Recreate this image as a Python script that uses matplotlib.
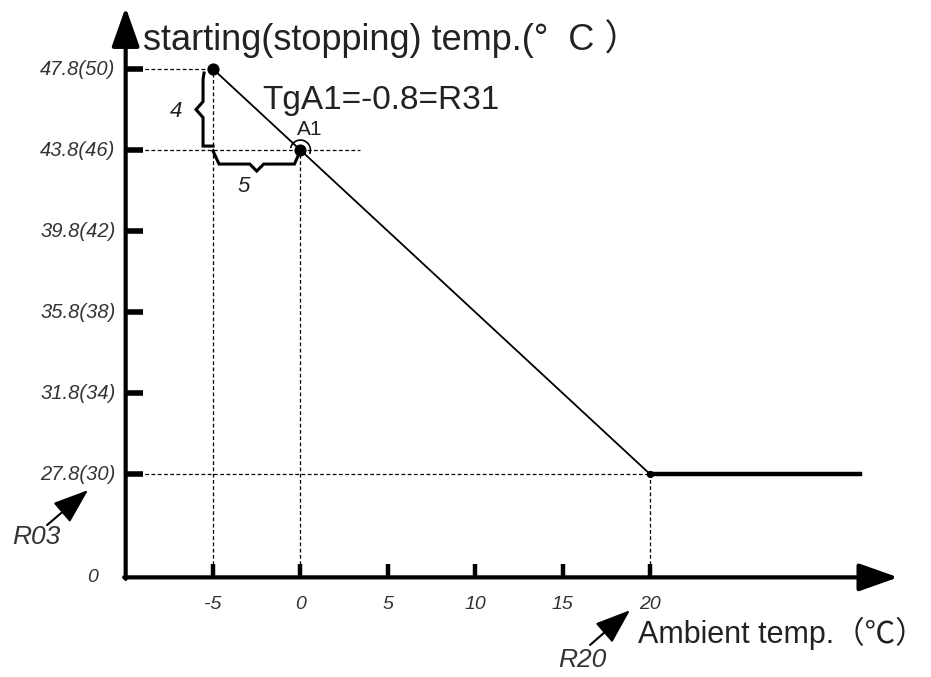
import numpy as np
import matplotlib.pyplot as plt
from matplotlib.patches import Arc

plt.rcParams['font.family'] = ['Liberation Sans', 'Noto Sans CJK SC', 'DejaVu Sans']

# control curve: ambient temp -> starting(stopping) temp
ambient = [-5, 0, 20]
setpoint = [47.8, 43.8, 27.8]
flat_x = [20, 32]
flat_y = [27.8, 27.8]

x_ticks = [-5, 0, 5, 10, 15, 20]
x_labels = ['-5', '0', '5', '10', '15', '20']
y_ticks = [27.8, 31.8, 35.8, 39.8, 43.8, 47.8]
y_labels = ['27.8(30)', '31.8(34)', '35.8(38)', '39.8(42)', '43.8(46)', '47.8(50)']

x0, y0 = -10, 22.7          # where the two axes cross
px, py = 1/17.48, 1/20.25   # one pixel in data units

fig = plt.figure(figsize=(9.31, 6.77), dpi=100)
ax = fig.add_axes([0, 0, 1, 1])
ax.set_xlim(-17.19, 36.08)
ax.set_ylim(17.78, 51.21)
ax.axis('off')

# axes with arrows
arr = dict(arrowstyle='-|>,head_length=2.4,head_width=0.85', color='k', lw=3,
           shrinkA=0, shrinkB=0, mutation_scale=10)
ax.annotate('', xy=(x0, 50.85), xytext=(x0, y0 - 1.5*py), arrowprops=arr)
ax.annotate('', xy=(34.2, y0), xytext=(x0 - 1.5*px, y0), arrowprops=arr)

# ticks
ax.hlines(y_ticks, x0, x0 + 17*px, color='k', lw=4)
ax.vlines(x_ticks, y0, y0 + 13*py, color='k', lw=3.2)
for t, lab in zip(y_ticks, y_labels):
    ax.text(x0 - 10*px, t, lab, ha='right', va='center', style='italic', fontsize=14.5, color='#333333')
for t, lab in zip(x_ticks, x_labels):
    ax.text(t, y0 - 27*py, lab, ha='center', va='center', style='italic', fontsize=14, color='#333333')
ax.text(-11.87, y0, '0', ha='center', va='center', style='italic', fontsize=14, color='#333333')

# dashed guide lines
dash = dict(color='k', lw=0.9, linestyle=(0, (3, 2)))
ax.hlines(setpoint[0], x0, ambient[0], **dash)
ax.hlines(setpoint[1], x0, 3.4, **dash)
ax.hlines(setpoint[2], x0, ambient[2], **dash)
for xv, yv in zip(ambient, setpoint):
    ax.vlines(xv, y0, yv, **dash)

# the curve
ax.plot(ambient, setpoint, color='k', lw=1.3, zorder=3)
ax.plot(flat_x, flat_y, color='k', lw=3.2, zorder=3)
ax.scatter(ambient[:2], setpoint[:2], s=60, color='k', zorder=4)
ax.scatter(ambient[2:], setpoint[2:], s=18, color='k', zorder=4)

# braces showing rise 4 / run 5
xb = ambient[0] - 10*px
ym = (setpoint[0] + setpoint[1]) / 2
ax.plot([xb + 1*px, xb, xb, xb - 7*px, xb, xb, ambient[0]],
        [setpoint[0] - 4*py, setpoint[0] - 10*py, ym + 8*py, ym, ym - 8*py, setpoint[1] + 4*py, setpoint[1] + 4*py],
        color='k', lw=2.2, solid_joinstyle='miter')
yb = setpoint[1] - 14*py
xm = (ambient[0] + ambient[1]) / 2
ax.plot([ambient[0], ambient[0] + 6*px, xm - 7*px, xm, xm + 7*px, ambient[1] - 6*px, ambient[1] - 2*px],
        [setpoint[1] - 1*py, yb, yb, yb - 7*py, yb, yb, setpoint[1] - 5*py],
        color='k', lw=2.2, solid_joinstyle='miter')
ax.add_patch(Arc((ambient[1], setpoint[1]), 20*px, 20*py, theta1=-20, theta2=170, color='k', lw=1.2))

# labels
ax.text(-9.0, 49.33, 'starting(stopping) temp.(°  C ）', ha='left', va='center', fontsize=26, color='#222222')
ax.text(-2.2, 46.27, 'TgA1=-0.8=R31', ha='left', va='center', fontsize=24, color='#222222')
ax.text(-0.19, 44.84, 'A1', ha='left', va='center', fontsize=15, color='#222222')
ax.text(-7.12, 45.68, '4', ha='center', va='center', style='italic', fontsize=16, color='#222222')
ax.text(-3.23, 42.02, '5', ha='center', va='center', style='italic', fontsize=16, color='#222222')
ax.text(19.31, 19.95, 'Ambient temp.（℃）', ha='left', va='center', fontsize=22, color='#222222')

small = dict(arrowstyle='-|>,head_length=2.2,head_width=0.8', color='k', lw=1.5,
             shrinkA=0, shrinkB=0, mutation_scale=10)
ax.text(-15.13, 24.69, 'R03', ha='center', va='center', style='italic', fontsize=19, color='#333333')
ax.annotate('', xy=(-12.15, 27.01), xytext=(-14.5, 25.28), arrowprops=small)
ax.text(16.11, 18.61, 'R20', ha='center', va='center', style='italic', fontsize=19, color='#333333')
ax.annotate('', xy=(18.86, 21.08), xytext=(16.57, 19.36), arrowprops=small)

fig.savefig('out.png', dpi=100)
